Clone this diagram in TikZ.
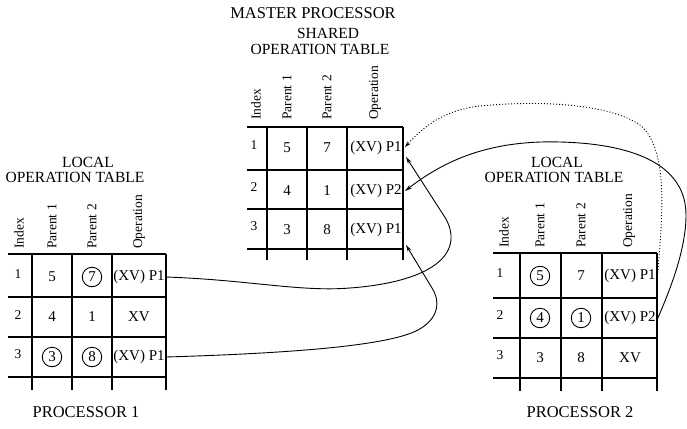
\documentclass[tikz,border=0pt]{standalone}
\usepackage{fontspec}
\setmainfont{Liberation Serif}
\usetikzlibrary{arrows.meta}
\begin{document}
\begin{tikzpicture}[x=1pt,y=-1pt,
  grid/.style={line width=1.1pt},
  link/.style={line width=0.9pt},
  hdr/.style={rotate=90,anchor=west,font=\fontsize{13.5}{15}\selectfont,inner sep=0pt},
  cell/.style={font=\fontsize{15}{17}\selectfont,inner sep=0pt},
  idx/.style={font=\fontsize{13.5}{15}\selectfont,inner sep=0pt},
  circ/.style={draw,circle,line width=0.9pt,minimum size=19.5pt,inner sep=0pt,font=\fontsize{15}{17}\selectfont},
  ttl/.style={font=\fontsize{15.5}{17}\selectfont,inner sep=0pt},
  big/.style={font=\fontsize{16.5}{18}\selectfont,inner sep=0pt},
  tip/.style={-{Stealth[length=7pt,width=4pt]}},
  otip/.style={-{Stealth[open,length=6pt,width=4pt]}},
  dots/.style={line width=0.9pt,dash pattern=on 1pt off 2pt},
]
\useasboundingbox (0,0) rectangle (687,428);

% ---------- titles ----------
\node[big] (mtitle) at (313,13) {MASTER PROCESSOR};
\node[ttl] (mshared) at (328,33) {SHARED};
\node[ttl] (mopt) at (320,49) {OPERATION TABLE};
\node[ttl] (l1local) at (88,162) {LOCAL};
\node[ttl] (l1opt) at (75,177) {OPERATION TABLE};
\node[ttl] (l2local) at (557,162) {LOCAL};
\node[ttl] (l2opt) at (554,177) {OPERATION TABLE};
\node[big] (proc1) at (86,412) {PROCESSOR 1};
\node[big] (proc2) at (580,412) {PROCESSOR 2};

% ---------- master table ----------
\foreach \y in {127,170,209,249} \draw[grid] (247,\y) -- (403,\y);
\foreach \x in {267,307,347,403} \draw[grid] (\x,127) -- (\x,260);
\node[hdr] (mh1) at (256,120) {Index};
\node[hdr] (mh2) at (287,120) {Parent 1};
\node[hdr] (mh3) at (327,120) {Parent 2};
\node[hdr] (mh4) at (375,120) {Operation};
\node[idx] (m-1-1) at (254,145) {1};
\node[cell] (m-1-2) at (287,148) {5};
\node[cell] (m-1-3) at (327,148) {7};
\node[cell] (m-1-4) at (376,148) {(XV) P1};
\node[idx] (m-2-1) at (254,187) {2};
\node[cell] (m-2-2) at (287,191) {4};
\node[cell] (m-2-3) at (327,191) {1};
\node[cell] (m-2-4) at (376,191) {(XV) P2};
\node[idx] (m-3-1) at (254,226) {3};
\node[cell] (m-3-2) at (287,230) {3};
\node[cell] (m-3-3) at (327,230) {8};
\node[cell] (m-3-4) at (376,230) {(XV) P1};

% ---------- local table, processor 1 ----------
\foreach \y in {254,297,337,377} \draw[grid] (8,\y) -- (166,\y);
\foreach \x in {32,72,112,166} \draw[grid] (\x,254) -- (\x,390);
\node[hdr] (ah1) at (19,249) {Index};
\node[hdr] (ah2) at (52,249) {Parent 1};
\node[hdr] (ah3) at (92,249) {Parent 2};
\node[hdr] (ah4) at (139,249) {Operation};
\node[idx] (a-1-1) at (18,274) {1};
\node[cell] (a-1-2) at (52,277) {5};
\node[circ] (a-1-3) at (92,277) {7};
\node[cell] (a-1-4) at (139,277) {(XV) P1};
\node[idx] (a-2-1) at (18,315) {2};
\node[cell] (a-2-2) at (52,317) {4};
\node[cell] (a-2-3) at (92,317) {1};
\node[cell] (a-2-4) at (139,317) {XV};
\node[idx] (a-3-1) at (18,354) {3};
\node[circ] (a-3-2) at (52,357) {3};
\node[circ] (a-3-3) at (92,357) {8};
\node[cell] (a-3-4) at (139,357) {(XV) P1};

% ---------- local table, processor 2 ----------
\foreach \y in {253,298,338,378} \draw[grid] (493,\y) -- (657,\y);
\foreach \x in {520,561,602,657} \draw[grid] (\x,253) -- (\x,391);
\node[hdr] (bh1) at (504,248) {Index};
\node[hdr] (bh2) at (540,248) {Parent 1};
\node[hdr] (bh3) at (581,248) {Parent 2};
\node[hdr] (bh4) at (629,248) {Operation};
\node[idx] (b-1-1) at (500,273) {1};
\node[circ] (b-1-2) at (540,276) {5};
\node[cell] (b-1-3) at (581,276) {7};
\node[cell] (b-1-4) at (630,276) {(XV) P1};
\node[idx] (b-2-1) at (500,315) {2};
\node[circ] (b-2-2) at (540,318) {4};
\node[circ] (b-2-3) at (581,318) {1};
\node[cell] (b-2-4) at (630,318) {(XV) P2};
\node[idx] (b-3-1) at (500,355) {3};
\node[cell] (b-3-2) at (540,358) {3};
\node[cell] (b-3-3) at (581,358) {8};
\node[cell] (b-3-4) at (630,358) {XV};

% ---------- connector end points on the table borders ----------
\coordinate (a1out) at (166,277);
\coordinate (a3out) at (166,357);
\coordinate (b1out) at (657,282);
\coordinate (b2out) at (657,320);
\coordinate (m1dot) at (405,147);
\coordinate (m1in) at (406,157);
\coordinate (m2in) at (405,191);
\coordinate (m3in) at (406,245);

% ---------- connectors ----------
\draw[link,tip] (a1out) .. controls (250,280) and (300,292) .. (350,288)
  .. controls (430,282) and (465,255) .. (446,219) -- (m1in);
\draw[link,tip] (a3out) .. controls (300,353) and (390,345) .. (418,330)
  .. controls (440,318) and (440,300) .. (432,288) -- (m3in);
\draw[link,tip] (b2out) .. controls (670,290) and (686,250) .. (686,215)
  .. controls (686,168) and (640,144) .. (560,142)
  .. controls (490,140) and (445,160) .. (m2in);
\draw[dots,otip] (b1out) .. controls (662,220) and (670,150) .. (640,125)
  .. controls (610,104) and (540,100) .. (480,106)
  .. controls (445,110) and (425,125) .. (m1dot);
\end{tikzpicture}
\end{document}
